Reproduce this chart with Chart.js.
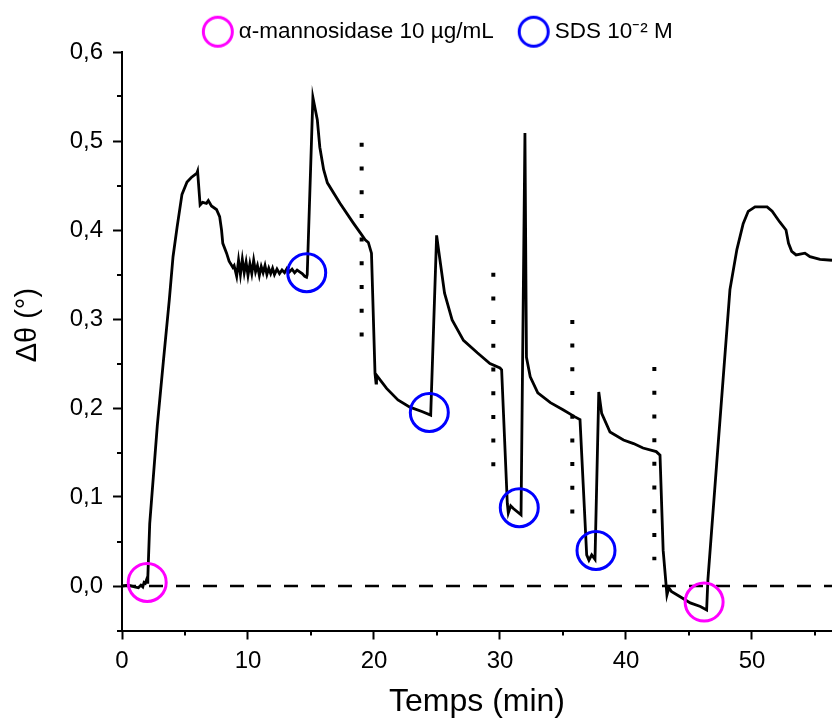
<!DOCTYPE html>
<html lang="fr">
<head>
<meta charset="UTF-8">
<title>Δθ en fonction du temps</title>
<script src="https://cdn.jsdelivr.net/npm/chart.js@4"></script>
<style>
  html, body { margin: 0; padding: 0; background: #fff; }
  #wrap { width: 832px; height: 720px; }
</style>
</head>
<body>
<div id="wrap"><canvas id="chart" width="832" height="720"></canvas></div>
<script>
// signal (min, degrés)
const timeMin = [
  0, 0.5, 1.0, 1.3, 1.5, 1.65, 1.75, 1.85, 1.95, 2.0, 2.05,
  2.2, 2.8, 3.3, 3.75, 4.05, 4.37, 4.76, 5.16, 5.5, 5.95, 6.0,
  6.2, 6.4, 6.7, 6.85, 7.1, 7.5, 7.75, 7.9, 8.0, 8.3, 8.5, 8.8,
  8.9, 9.1, 9.25, 9.4, 9.55, 9.7, 9.85, 10.0, 10.15, 10.3, 10.45, 10.6, 10.75, 10.9,
  11.05, 11.2, 11.35, 11.5, 11.65, 11.8, 11.95, 12.1, 12.3, 12.5, 12.7, 12.9,
  13.1, 13.3, 13.5, 13.7, 13.9, 14.1, 14.3, 14.5, 14.65,
  14.7, 15.15, 15.5, 15.7, 16.0, 16.3, 17.3, 18.35, 18.9, 19.3, 19.55,
  19.8, 20.08, 20.16, 20.2, 21.0, 21.9, 22.85, 23.8, 24.5,
  24.97, 25.2, 25.6, 26.2, 27.1, 28.2, 29.2, 30.0, 30.13,
  30.58, 30.66, 30.85, 31.06, 31.67, 31.98, 32.1, 32.4, 33.0, 34.0, 35.0, 35.95, 36.35,
  36.6, 36.88, 37.06, 37.28, 37.54, 37.84, 38.07, 38.73, 39.8, 40.6, 41.35, 42.4, 42.7,
  42.95, 43.25, 43.4, 43.6, 44.3, 45.1, 45.9, 46.4,
  46.5, 47.2, 47.7, 48.25, 48.8, 49.3, 49.7, 50.24, 51.2, 51.6, 52.2, 52.7, 52.9,
  53.15, 53.5, 54.2, 54.6, 55.4, 56.35
];
const deltaTheta = [
  0.000, 0.001, -0.001, -0.002, 0.001, -0.001, 0.004, 0.003, 0.007, 0.004, 0.010,
  0.070, 0.180, 0.255, 0.321, 0.370, 0.403, 0.440, 0.454, 0.459, 0.464, 0.466,
  0.428, 0.431, 0.430, 0.433, 0.427, 0.423, 0.415, 0.400, 0.385, 0.374, 0.365, 0.358,
  0.360, 0.348, 0.366, 0.350, 0.367, 0.352, 0.364, 0.349, 0.362, 0.351, 0.366, 0.353, 0.360, 0.349,
  0.359, 0.352, 0.360, 0.350, 0.357, 0.351, 0.357, 0.350, 0.356, 0.351, 0.355, 0.352,
  0.357, 0.353, 0.356, 0.352, 0.355, 0.353, 0.351, 0.348, 0.347,
  0.350, 0.549, 0.524, 0.493, 0.468, 0.453, 0.430, 0.408, 0.397, 0.389, 0.386,
  0.374, 0.239, 0.228, 0.237, 0.222, 0.209, 0.201, 0.196, 0.192,
  0.394, 0.370, 0.329, 0.299, 0.276, 0.262, 0.250, 0.245, 0.243,
  0.093, 0.082, 0.090, 0.087, 0.080, 0.509, 0.257, 0.235, 0.217, 0.206, 0.198, 0.190, 0.187,
  0.115, 0.035, 0.029, 0.035, 0.030, 0.218, 0.194, 0.173, 0.164, 0.160, 0.155, 0.151, 0.147,
  0.040, -0.010, -0.002, -0.006, -0.012, -0.019, -0.023, -0.027,
  0.007, 0.138, 0.231, 0.333, 0.378, 0.407, 0.421, 0.426, 0.426, 0.421, 0.409, 0.400, 0.385,
  0.376, 0.372, 0.374, 0.370, 0.367, 0.366
];

// injections
const mannosidaseT = [2.0, 46.2];
const mannosidaseY = [0.004, -0.018];
const sdsT = [14.66, 24.39, 31.53, 37.62];
const sdsY = [0.352, 0.195, 0.088, 0.040];

// rinçages (pointillés verticaux)
const rinseT = [19.02, 29.47, 35.74, 42.25];
const rinseTop = [0.498, 0.352, 0.299, 0.246];
const rinseBottom = [0.280, 0.134, 0.081, 0.029];

const xMax = 56.35;
const xTicks = [0, 10, 20, 30, 40, 50];
const xMinor = [5, 15, 25, 35, 45, 55];
const yTicks = [0, 0.1, 0.2, 0.3, 0.4, 0.5, 0.6];
const yMinor = [-0.05, 0.05, 0.15, 0.25, 0.35, 0.45, 0.55];

const FONT = "'Liberation Sans', Arial, sans-serif";

// legend ring, drawn a little right of the box centre
function ring(color) {
  const c = document.createElement('canvas');
  c.width = 44; c.height = 34;
  const g = c.getContext('2d');
  g.strokeStyle = color;
  g.lineWidth = 3;
  g.beginPath();
  g.arc(22 + 4.9, 17, 14.5, 0, Math.PI * 2);
  g.stroke();
  return c;
}

function circles(label, xs, ys, color) {
  return {
    label: label,
    data: xs.map((x, i) => ({ x: x, y: ys[i] })),
    showLine: false,
    pointStyle: 'circle',
    pointRadius: 19,
    pointHoverRadius: 19,
    pointBorderWidth: 3,
    borderColor: color,
    backgroundColor: 'rgba(0,0,0,0)',
    legendRing: ring(color)
  };
}

const rinseSets = rinseT.map((t, i) => ({
  label: 'rinçage',
  data: [{ x: t, y: rinseTop[i] }, { x: t, y: rinseBottom[i] }],
  showLine: true,
  borderColor: '#000',
  borderWidth: 4,
  borderDash: [4, 19.7],
  borderCapStyle: 'butt',
  pointRadius: 0
}));

// minor ticks, drawn on the scales
const minorTicks = {
  id: 'minorTicks',
  afterDraw(chart) {
    const { ctx, scales: { x, y } } = chart;
    ctx.save();
    ctx.strokeStyle = '#000';
    ctx.lineWidth = 2;
    ctx.beginPath();
    xMinor.forEach(v => {
      const px = Math.round(x.getPixelForValue(v));
      ctx.moveTo(px, x.top);
      ctx.lineTo(px, x.top + 5);
    });
    yMinor.forEach(v => {
      const py = Math.round(y.getPixelForValue(v));
      ctx.moveTo(y.right, py);
      ctx.lineTo(y.right - 5, py);
    });
    ctx.stroke();
    ctx.restore();
  }
};

// fixed legend height so the plot starts at the right place
const legendHeight = {
  id: 'legendHeight',
  beforeInit(chart) {
    const fit = chart.legend.fit;
    chart.legend.fit = function () {
      fit.call(this);
      this.height = 52;
    };
  }
};

new Chart(document.getElementById('chart'), {
  type: 'scatter',
  data: {
    datasets: [
      circles('α-mannosidase 10 µg/mL', mannosidaseT, mannosidaseY, '#ff00ff'),
      circles('SDS 10⁻² M', sdsT, sdsY, '#0000ff'),
      {
        label: 'Δθ',
        data: timeMin.map((t, i) => ({ x: t, y: deltaTheta[i] })),
        showLine: true,
        borderColor: '#000',
        borderWidth: 2.8,
        pointRadius: 0,
        tension: 0
      },
      {
        label: 'zéro',
        data: [{ x: 0, y: 0 }, { x: xMax, y: 0 }],
        showLine: true,
        borderColor: '#000',
        borderWidth: 2.5,
        borderDash: [14, 13],
        pointRadius: 0
      },
      ...rinseSets
    ]
  },
  options: {
    responsive: false,
    animation: false,
    events: [],
    layout: { autoPadding: false, padding: { left: 39, top: 0, right: 0, bottom: 0 } },
    plugins: {
      tooltip: { enabled: false },
      legend: {
        position: 'top',
        labels: {
          usePointStyle: true,
          pointStyleWidth: 29.25,
          padding: 20.5,
          color: '#000',
          font: { family: FONT, size: 22.5 },
          filter: item => item.datasetIndex < 2,
          generateLabels(chart) {
            const items = Chart.defaults.plugins.legend.labels.generateLabels(chart);
            items.forEach(it => {
              const ds = chart.data.datasets[it.datasetIndex];
              if (ds.legendRing) it.pointStyle = ds.legendRing;
            });
            return items;
          }
        }
      }
    },
    scales: {
      x: {
        type: 'linear',
        position: 'bottom',
        min: 0,
        max: xMax,
        afterBuildTicks: s => { s.ticks = xTicks.map(v => ({ value: v })); },
        afterFit: s => { s.height = 89.5; },
        border: { display: true, color: '#000', width: 2 },
        grid: { drawOnChartArea: false, tickLength: 9, tickWidth: 2, tickColor: '#000' },
        ticks: { color: '#000', padding: 7, maxRotation: 0, autoSkip: false, font: { family: FONT, size: 24 } },
        title: { display: true, text: 'Temps (min)', color: '#000', padding: { top: 0, bottom: -1 }, font: { family: FONT, size: 32 } }
      },
      y: {
        type: 'linear',
        position: 'left',
        min: -0.05,
        max: 0.6,
        afterBuildTicks: s => { s.ticks = yTicks.map(v => ({ value: v })); },
        afterFit: s => { s.width = 83; },
        border: { display: true, color: '#000', width: 2 },
        grid: { drawOnChartArea: false, tickLength: 9, tickWidth: 2, tickColor: '#000' },
        ticks: {
          color: '#000',
          padding: 10,
          font: { family: FONT, size: 24 },
          callback: v => v.toFixed(1).replace('.', ',')
        },
        title: { display: true, text: '    Δθ (°)', color: '#000', padding: { top: -28.4, bottom: 0 }, font: { family: FONT, size: 29 } }
      }
    }
  },
  plugins: [minorTicks, legendHeight]
});
</script>
</body>
</html>
